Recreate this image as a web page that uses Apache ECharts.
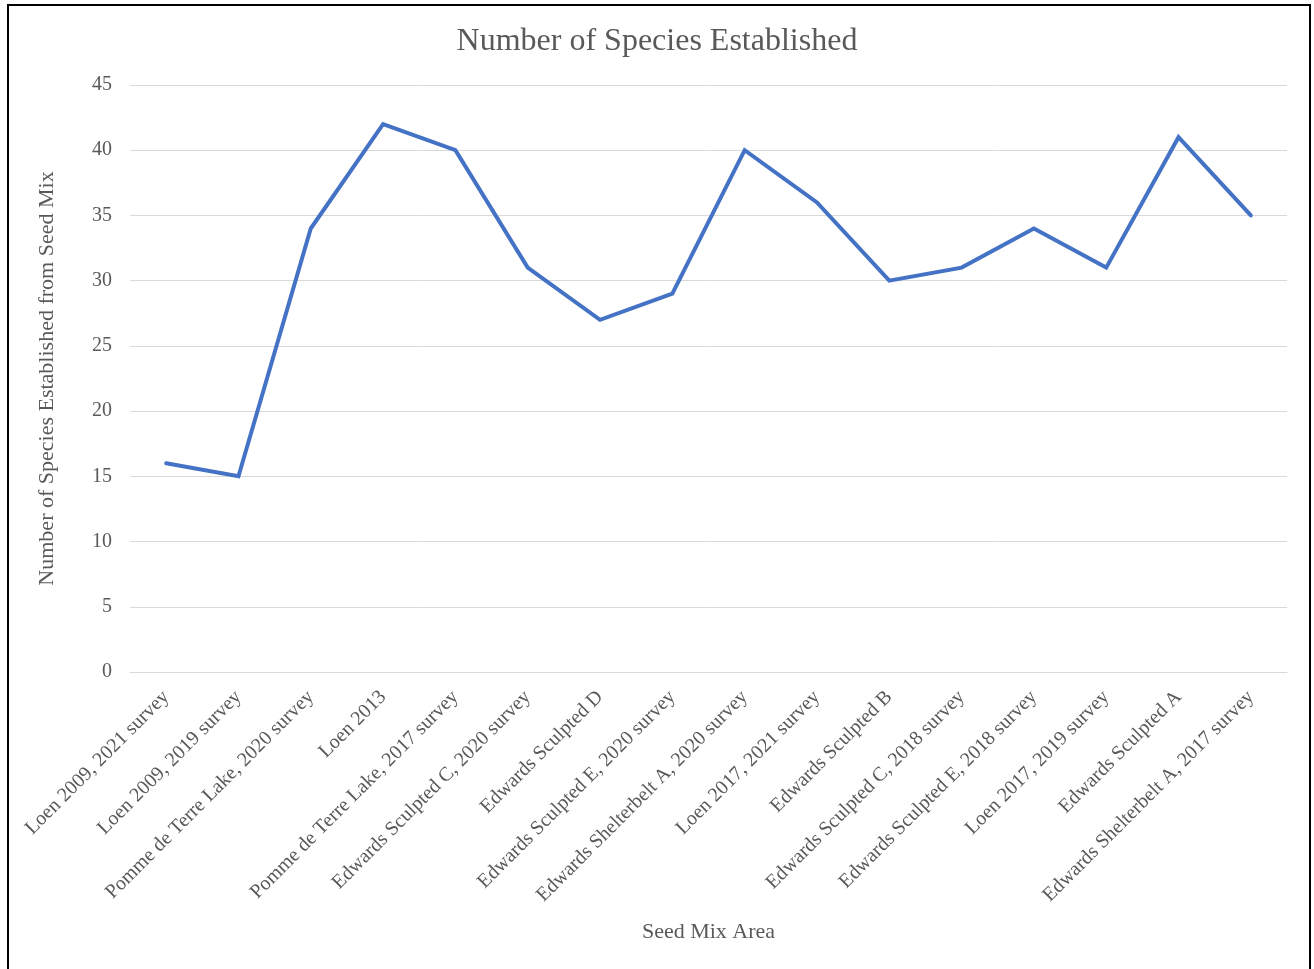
<!DOCTYPE html>
<html>
<head>
<meta charset="utf-8">
<title>Number of Species Established</title>
<script src="https://cdn.jsdelivr.net/npm/echarts@6/dist/echarts.min.js"></script>
<style>
  html, body { margin: 0; padding: 0; background: #ffffff; }
  #chart { width: 1314px; height: 969px; }
</style>
</head>
<body>
<div id="chart"></div>
<script>
// Seed mix areas along the x axis
const areas = [
  'Loen 2009, 2021 survey',
  'Loen 2009, 2019 survey',
  'Pomme de Terre Lake, 2020 survey',
  'Loen 2013',
  'Pomme de Terre Lake, 2017 survey',
  'Edwards Sculpted C, 2020 survey',
  'Edwards Sculpted D',
  'Edwards Sculpted E, 2020 survey',
  'Edwards Shelterbelt A, 2020 survey',
  'Loen 2017, 2021 survey',
  'Edwards Sculpted B',
  'Edwards Sculpted C, 2018 survey',
  'Edwards Sculpted E, 2018 survey',
  'Loen 2017, 2019 survey',
  'Edwards Sculpted A',
  'Edwards Shelterbelt A, 2017 survey'
];

// Species established from each seed mix
const speciesCounts = [16, 15, 34, 42, 40, 31, 27, 29, 40, 36, 30, 31, 34, 31, 41, 35];

// Value axis range
const yMin = 0;
const yMax = 45;
const yStep = 5;

const fontFamily = '"Liberation Serif", "Times New Roman", serif';
const textColor = '#595959';

const chart = echarts.init(document.getElementById('chart'), null, { renderer: 'canvas' });

chart.setOption({
  backgroundColor: '#ffffff',
  animation: false,
  title: {
    text: 'Number of Species Established',
    left: 'center',
    top: 21,
    textStyle: { fontFamily, fontSize: 32, fontWeight: 'normal', color: textColor }
  },
  graphic: [{
    type: 'rect',
    shape: { x: 8, y: 5, width: 1302, height: 980 },
    style: { fill: 'none', stroke: '#000000', lineWidth: 2 },
    silent: true
  }],
  grid: { left: 130, right: 27, top: 85, bottom: 297, containLabel: false },
  xAxis: {
    type: 'category',
    data: areas,
    boundaryGap: true,
    name: 'Seed Mix Area',
    nameLocation: 'middle',
    nameGap: 249,
    nameTextStyle: { fontFamily, fontSize: 22, color: textColor },
    axisLine: { show: true, lineStyle: { color: '#d9d9d9', width: 1 } },
    axisTick: { show: false },
    axisLabel: {
      rotate: 45,
      interval: 0,
      margin: 22,
      fontFamily,
      fontSize: 20,
      color: textColor
    }
  },
  yAxis: {
    type: 'value',
    min: yMin,
    max: yMax,
    interval: yStep,
    name: 'Number of Species Established from Seed Mix',
    nameLocation: 'middle',
    nameGap: 72,
    nameTextStyle: { fontFamily, fontSize: 22, color: textColor },
    axisLine: { show: false },
    axisTick: { show: false },
    axisLabel: { fontFamily, fontSize: 20, color: textColor, margin: 18 },
    splitLine: { show: true, lineStyle: { color: '#d9d9d9', width: 1 } }
  },
  series: [{
    type: 'line',
    data: speciesCounts,
    symbol: 'none',
    lineStyle: { color: '#4472c4', width: 4, cap: 'round', join: 'miter' },
    itemStyle: { color: '#4472c4' }
  }]
});
</script>
</body>
</html>
